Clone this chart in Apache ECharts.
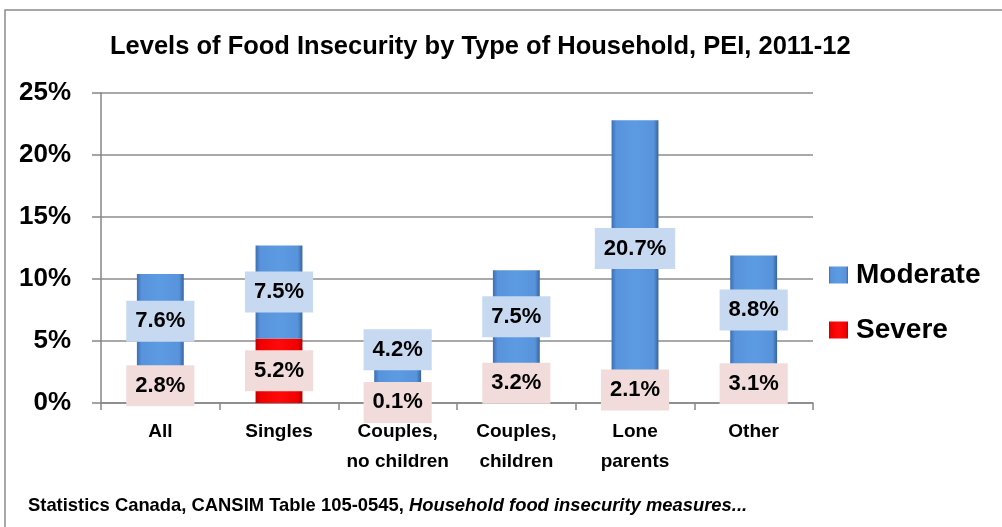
<!DOCTYPE html>
<html>
<head>
<meta charset="utf-8">
<script src="https://cdn.jsdelivr.net/npm/echarts@6/dist/echarts.min.js"></script>
<style>
html,body{margin:0;padding:0;background:#fff;}
#chart{width:1002px;height:527px;}
</style>
</head>
<body>
<div id="chart"></div>
<script>
const categories = ['All', 'Singles', 'Couples,\nno children', 'Couples,\nchildren', 'Lone\nparents', 'Other'];
const moderate = [7.6, 7.5, 4.2, 7.5, 20.7, 8.8];
const severe = [2.8, 5.2, 0.1, 3.2, 2.1, 3.1];
const yTicks = [0, 5, 10, 15, 20, 25];

const FONT = '"Liberation Sans", Arial, sans-serif';
const blueGrad = new echarts.graphic.LinearGradient(0, 0, 1, 0, [
  {offset: 0, color: '#3b6fb5'}, {offset: 0.1, color: '#5893db'},
  {offset: 0.5, color: '#5c9be2'}, {offset: 0.9, color: '#5893db'}, {offset: 1, color: '#36659f'}
]);
const redGrad = new echarts.graphic.LinearGradient(0, 0, 1, 0, [
  {offset: 0, color: '#c00000'}, {offset: 0.1, color: '#f00000'},
  {offset: 0.5, color: '#ff0a0a'}, {offset: 0.9, color: '#f00000'}, {offset: 1, color: '#b00000'}
]);
const labelBase = {
  show: true, position: 'inside', color: '#000', fontFamily: FONT, fontWeight: 'bold', fontSize: 22,
  padding: [10, 9, 9, 9], formatter: p => p.value + '%'
};

const chart = echarts.init(document.getElementById('chart'));
chart.setOption({
  animation: false,
  backgroundColor: '#fff',
  title: {
    text: 'Levels of Food Insecurity by Type of Household, PEI, 2011-12',
    left: 105, top: 29,
    textStyle: {fontFamily: FONT, fontWeight: 'bold', fontSize: 25.5, color: '#000'}
  },
  legend: {
    orient: 'vertical', left: 824, top: 256, itemWidth: 19, itemHeight: 17, itemGap: 27,
    icon: 'rect',
    data: ['Moderate', 'Severe'],
    textStyle: {fontFamily: FONT, fontWeight: 'bold', fontSize: 28, color: '#000', padding: [0, 0, 0, 3]}
  },
  grid: {left: 101, right: 189, top: 93, bottom: 124, containLabel: false},
  xAxis: {
    type: 'category', data: categories,
    axisLine: {show: true, lineStyle: {color: '#868686', width: 1.5}},
    axisTick: {show: true, length: 7, interval: 0, lineStyle: {color: '#868686', width: 1.5}},
    axisLabel: {interval: 0, margin: 14, color: '#000', fontFamily: FONT, fontWeight: 'bold', fontSize: 19, lineHeight: 30}
  },
  yAxis: {
    type: 'value', min: yTicks[0], max: yTicks[yTicks.length - 1], interval: yTicks[1] - yTicks[0],
    axisLine: {show: true, lineStyle: {color: '#868686', width: 1.5}},
    axisTick: {show: true, length: 9, lineStyle: {color: '#868686', width: 1.5}},
    splitLine: {show: true, lineStyle: {color: '#8c8c8c', width: 1.5}},
    axisLabel: {margin: 30, color: '#000', fontFamily: FONT, fontWeight: 'bold', fontSize: 26, formatter: '{value}%'}
  },
  series: [
    {
      name: 'Severe', type: 'bar', stack: 'total', barWidth: '39.5%',
      itemStyle: {color: redGrad},
      label: Object.assign({}, labelBase, {backgroundColor: '#f2dcdb'}),
      data: severe
    },
    {
      name: 'Moderate', type: 'bar', stack: 'total', barWidth: '39.5%',
      itemStyle: {color: blueGrad},
      label: Object.assign({}, labelBase, {backgroundColor: '#c6d9f1'}),
      data: moderate.map((v, i) => i === 2 ? {value: v, label: {offset: [0, -26]}} : v)
    }
  ],
  graphic: [
    {
      type: 'rect', shape: {x: 5, y: 10, width: 1010, height: 540},
      style: {fill: 'none', stroke: '#8a8a8a', lineWidth: 1.5}, silent: true
    },
    {
      type: 'text', left: 28, top: 497,
      style: {
        text: '{a|Statistics Canada, CANSIM Table 105-0545, }{b|Household food insecurity measures...}',
        rich: {
          a: {fontFamily: FONT, fontWeight: 'bold', fontSize: 18.4, fill: '#000', color: '#000'},
          b: {fontFamily: FONT, fontWeight: 'bold', fontStyle: 'italic', fontSize: 18.4, fill: '#000', color: '#000'}
        }
      }
    }
  ]
});
</script>
</body>
</html>
